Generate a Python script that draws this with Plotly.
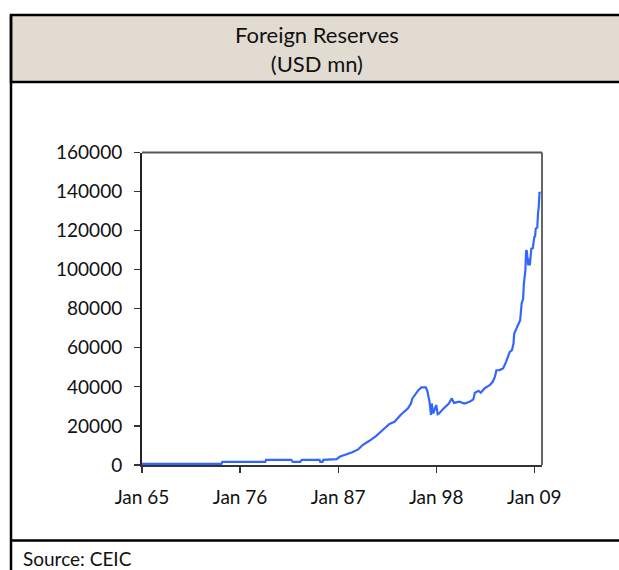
import plotly.graph_objects as go

# ---- data ----
dates = [
    "1965-01-01", "1973-12-01", "1974-01-01", "1978-11-01", "1978-12-01",
    "1981-10-01", "1981-12-01", "1982-10-01", "1982-12-01", "1984-12-01",
    "1985-01-01", "1985-04-01", "1985-05-01", "1986-09-01", "1986-11-01",
    "1987-03-01", "1987-11-01", "1988-08-01", "1989-04-01", "1989-10-01",
    "1990-07-01", "1991-04-01", "1992-01-01", "1992-10-01", "1993-05-01",
    "1994-01-01", "1994-11-01", "1995-03-01", "1995-05-01", "1996-01-01",
    "1996-05-01", "1996-11-01", "1997-01-01", "1997-04-01", "1997-06-01",
    "1997-07-01", "1997-09-01", "1998-01-01", "1998-03-01", "1998-05-01",
    "1998-10-01", "1999-02-01", "1999-06-01", "1999-10-01", "2000-01-01",
    "2000-08-01", "2001-03-01", "2001-10-01", "2002-03-01", "2002-05-01",
    "2002-10-01", "2003-01-01", "2003-06-01", "2004-01-01", "2004-05-01",
    "2004-08-01", "2004-10-01", "2005-02-01", "2005-07-01", "2005-11-01",
    "2006-04-01", "2006-07-01", "2006-09-01", "2006-10-01", "2007-03-01",
    "2007-06-01", "2007-08-01", "2007-10-01", "2007-11-01", "2008-01-01",
    "2008-02-01", "2008-03-01", "2008-04-01", "2008-05-01", "2008-06-01",
    "2008-07-01", "2008-09-01", "2008-11-01", "2009-01-01", "2009-02-01",
    "2009-03-01", "2009-05-01", "2009-06-01", "2009-07-01", "2009-08-01",
    "2009-09-01",
]
reserves = [
    600, 600, 1600, 1600, 2600,
    2600, 1600, 1600, 2600, 2600,
    1600, 1600, 2600, 2700, 3000,
    4200, 5100, 6500, 8000, 10200,
    12400, 14800, 17900, 21000, 22100,
    25600, 29000, 31500, 34100, 38300,
    39700, 39700, 38000, 32400, 25600,
    31500, 26400, 30700, 26000, 26400,
    28500, 30200, 31500, 34100, 31800,
    32400, 31500, 32400, 33600, 37000,
    38000, 37000, 39200, 40900, 42600,
    45100, 48500, 48600, 49400, 52800,
    57900, 58800, 62200, 67300, 71600,
    74100, 82700, 85200, 92900, 99700,
    109900, 109500, 104800, 102200, 105700,
    102200, 110800, 111000, 116700, 117000,
    121000, 121500, 128700, 132000, 139700,
    139200,
]
tick_dates = ["1965-01-01", "1976-01-01", "1987-01-01", "1998-01-01", "2009-01-01"]
tick_labels = ["Jan 65", "Jan 76", "Jan 87", "Jan 98", "Jan 09"]
y_ticks = [0, 20000, 40000, 60000, 80000, 100000, 120000, 140000, 160000]

title_text = "Foreign Reserves<br>(USD mn)"
source_text = "Source: CEIC"

# ---- layout helpers ----
W, H = 619, 570
FONT = "Lato, 'Open Sans', sans-serif"


def fx(px):
    return px / W


def fy(py):
    return 1 - py / H


fig = go.Figure()
fig.add_trace(go.Scatter(
    x=dates, y=reserves, mode="lines",
    line=dict(color="#3366FF", width=2.2),
    hoverinfo="skip", showlegend=False,
))

shapes = [
    # beige title band
    dict(type="rect", xref="paper", yref="paper",
         x0=fx(11), x1=fx(640), y0=fy(82), y1=fy(15),
         fillcolor="#E1DBD1", line=dict(color="#000000", width=2.5), layer="below"),
    # outer left border
    dict(type="line", xref="paper", yref="paper",
         x0=fx(11), x1=fx(11), y0=fy(15), y1=fy(580),
         line=dict(color="#000000", width=2.5)),
    # separator above source
    dict(type="line", xref="paper", yref="paper",
         x0=fx(11), x1=fx(640), y0=fy(540.5), y1=fy(540.5),
         line=dict(color="#000000", width=2.5)),
    # plot frame top & right
    dict(type="line", xref="paper", yref="paper",
         x0=fx(142), x1=fx(542), y0=fy(152.5), y1=fy(152.5),
         line=dict(color="#555555", width=1.8)),
    dict(type="line", xref="paper", yref="paper",
         x0=fx(542), x1=fx(542), y0=fy(152.5), y1=fy(465),
         line=dict(color="#555555", width=1.8)),
]

fig.update_layout(
    template="none",
    width=W, height=H, autosize=False,
    margin=dict(l=0, r=0, t=0, b=0, pad=0, autoexpand=False),
    paper_bgcolor="white", plot_bgcolor="white",
    font=dict(family=FONT, color="#111111", size=19),
    shapes=shapes,
    annotations=[
        dict(text=title_text, xref="paper", yref="paper",
             x=fx(316.5), y=fy(49), xanchor="center", yanchor="middle",
             showarrow=False, font=dict(family=FONT, size=22, color="#111111"),
             align="center"),
        dict(text=source_text, xref="paper", yref="paper",
             x=fx(21), y=fy(558), xanchor="left", yanchor="middle",
             showarrow=False, font=dict(family=FONT, size=19, color="#111111")),
    ],
    xaxis=dict(
        type="date",
        automargin=False,
        domain=[fx(142), fx(542)],
        range=["1965-01-01", "2009-11-12"],
        tickvals=tick_dates, ticktext=tick_labels,
        ticks="outside", ticklen=6, tickwidth=1.2, tickcolor="#333333",
        showline=True, linecolor="#333333", linewidth=2,
        showgrid=False, zeroline=False,
        tickfont=dict(family=FONT, size=19, color="#111111"),
        ticklabelstandoff=8,
    ),
    yaxis=dict(
        automargin=False,
        domain=[fy(465), fy(152.5)],
        range=[0, 160000],
        tickvals=y_ticks, tickformat="d",
        ticks="outside", ticklen=6, tickwidth=1.2, tickcolor="#333333",
        showline=True, linecolor="#222222", linewidth=2,
        showgrid=False, zeroline=False,
        tickfont=dict(family=FONT, size=19, color="#111111"),
        ticklabelstandoff=8,
    ),
)

# remove the default page margin so the figure fills the window exactly
page_js = (
    "document.body.style.margin='0';"
    "document.body.style.overflow='hidden';"
    "document.documentElement.style.overflow='hidden';"
)
fig.write_html("out.html", post_script=page_js,
               config={"displayModeBar": False, "staticPlot": True})
